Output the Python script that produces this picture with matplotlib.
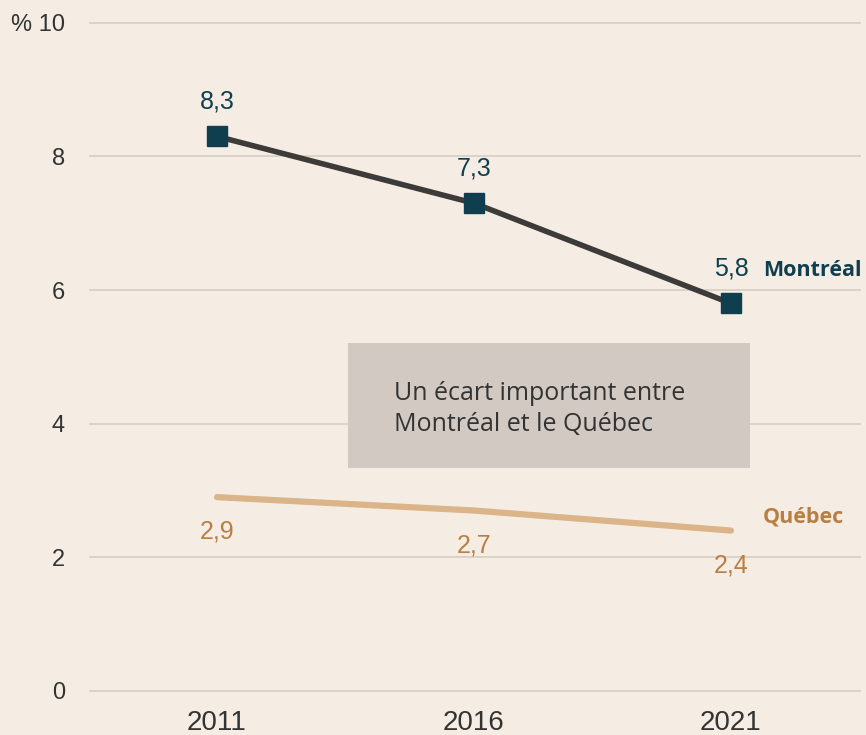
import matplotlib.pyplot as plt
from matplotlib.patches import Rectangle

annees = [2011, 2016, 2021]
montreal = [8.3, 7.3, 5.8]
quebec = [2.9, 2.7, 2.4]
montreal_lbl = ['8,3', '7,3', '5,8']
quebec_lbl = ['2,9', '2,7', '2,4']
yticks = [0, 2, 4, 6, 8, 10]
ytick_lbl = ['0', '2', '4', '6', '8', '% 10']

fond = '#f5ede3'
c_mtl_ligne = '#3d3b3a'
c_mtl = '#0f3f4f'
c_qc_ligne = '#dbb48a'
c_qc = '#b87f45'

plt.rcParams['font.family'] = ['Liberation Sans', 'DejaVu Sans']

fig = plt.figure(figsize=(8.66, 7.35), dpi=100, facecolor=fond)
ax = fig.add_axes([0.104, 0.06, 0.889, 0.909])
ax.set_facecolor(fond)

ax.set_xlim(2008.53, 2023.51)
ax.set_ylim(0, 10)
for y in yticks:
    ax.axhline(y, color='#d6cdc3', lw=1.2, zorder=1, clip_on=False)

# boite d'annotation
ax.add_patch(Rectangle((2013.55, 3.34), 7.82, 1.87, facecolor='#d1c9c2', edgecolor='none', zorder=2))
ax.text(2014.45, 4.22, 'Un écart important entre\nMontréal et le Québec', fontsize=18,
        family=['Open Sans', 'DejaVu Sans'], color='#333333', va='center', ha='left',
        linespacing=1.35, zorder=3)

ax.plot(annees, montreal, color=c_mtl_ligne, lw=4, zorder=4, solid_capstyle='round')
ax.plot(annees, montreal, ls='none', marker='s', ms=14, color=c_mtl, zorder=5)
ax.plot(annees, quebec, color=c_qc_ligne, lw=4.5, zorder=4, solid_capstyle='round')

for x, y, t in zip(annees, montreal, montreal_lbl):
    ax.annotate(t, (x, y), xytext=(0, 25), textcoords='offset points', ha='center', va='center',
                fontsize=18, color=c_mtl, zorder=6)
for x, y, t in zip(annees, quebec, quebec_lbl):
    ax.annotate(t, (x, y), xytext=(0, -25), textcoords='offset points', ha='center', va='center',
                fontsize=18, color=c_qc, zorder=6)

ax.text(2021.62, 6.29, 'Montréal', fontsize=15.5, fontweight='bold', color=c_mtl,
        family=['Open Sans', 'DejaVu Sans'], va='center', ha='left')
ax.text(2021.62, 2.6, 'Québec', fontsize=15.5, fontweight='bold', color=c_qc,
        family=['Open Sans', 'DejaVu Sans'], va='center', ha='left')

ax.set_xticks(annees)
ax.set_xticklabels([str(a) for a in annees])
ax.set_yticks(yticks)
ax.set_yticklabels(ytick_lbl)
ax.tick_params(length=0, colors='#333333')
ax.tick_params(axis='y', pad=18, labelsize=17)
ax.tick_params(axis='x', pad=14, labelsize=20)
for s in ax.spines.values():
    s.set_visible(False)

fig.savefig('out.png', dpi=100, facecolor=fond)
